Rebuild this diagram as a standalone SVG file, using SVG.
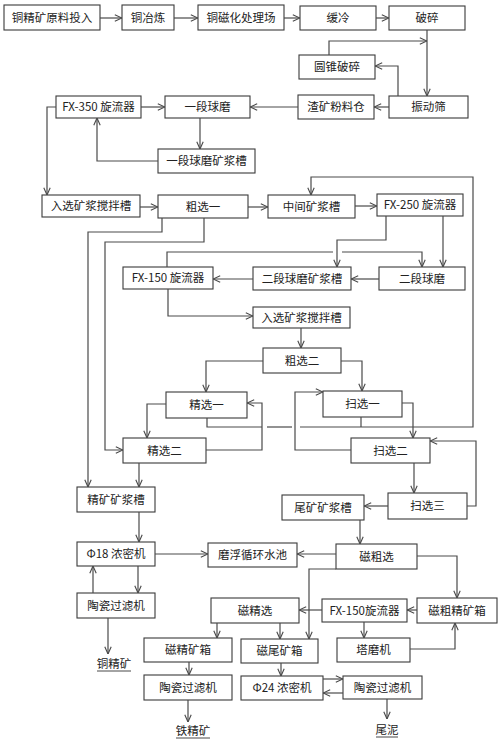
<svg xmlns="http://www.w3.org/2000/svg" width="500" height="743" viewBox="0 0 500 743">
<style>
.b rect{fill:#fff;stroke:#3a3a3a;stroke-width:1.1}
.b text,.t{font-family:"Noto Sans CJK SC","Liberation Sans",sans-serif;font-size:11.5px;fill:#222;text-anchor:middle}
.c polyline,.c line{fill:none;stroke:#4a4a4a;stroke-width:1.2}
.a{marker-end:url(#ar)}
.u{stroke:#333;stroke-width:0.9}
</style>
<defs>
<marker id="ar" viewBox="0 0 10 10" refX="10" refY="5" markerWidth="8" markerHeight="8" markerUnits="userSpaceOnUse" orient="auto">
<path d="M1,1 L10,5 L1,9" fill="none" stroke="#4a4a4a" stroke-width="1.4"/>
</marker>
</defs>
<rect width="500" height="743" fill="#fff"/>
<g class="b">
<g id="n1"><rect x="4" y="5" width="96" height="25"/><text x="52" y="21.5">铜精矿原料投入</text></g>
<g id="n2"><rect x="122" y="5" width="52" height="25"/><text x="148" y="21.5">铜冶炼</text></g>
<g id="n3"><rect x="198" y="5" width="86" height="25"/><text x="241" y="21.5">铜磁化处理场</text></g>
<g id="n4"><rect x="300" y="6" width="76" height="24"/><text x="338" y="22">缓冷</text></g>
<g id="n5"><rect x="389" y="6" width="76" height="24"/><text x="427" y="22">破碎</text></g>
<g id="n6"><rect x="299" y="55" width="76" height="24"/><text x="337" y="71">圆锥破碎</text></g>
<g id="n7"><rect x="389" y="96" width="79" height="22"/><text x="428.5" y="111">振动筛</text></g>
<g id="n8"><rect x="298" y="95" width="76" height="24"/><text x="336" y="111">渣矿粉料仓</text></g>
<g id="n9"><rect x="165" y="96" width="85" height="22"/><text x="207.5" y="111">一段球磨</text></g>
<g id="n10"><rect x="56" y="96" width="85" height="22"/><text x="98.5" y="111">FX-350 旋流器</text></g>
<g id="n11"><rect x="158" y="149" width="97" height="24"/><text x="206.5" y="165">一段球磨矿浆槽</text></g>
<g id="n12"><rect x="42" y="195" width="98" height="22"/><text x="91" y="210">入选矿浆搅拌槽</text></g>
<g id="n13"><rect x="158" y="195" width="90" height="23"/><text x="203" y="210.5">粗选一</text></g>
<g id="n14"><rect x="268" y="195" width="87" height="23"/><text x="311.5" y="210.5">中间矿浆槽</text></g>
<g id="n15"><rect x="377" y="194" width="86" height="22"/><text x="420" y="209">FX-250 旋流器</text></g>
<g id="n16"><rect x="123" y="267" width="90" height="22"/><text x="168" y="282">FX-150 旋流器</text></g>
<g id="n17"><rect x="253" y="267" width="98" height="23"/><text x="302" y="282.5">二段球磨矿浆槽</text></g>
<g id="n18"><rect x="379" y="267" width="86" height="23"/><text x="422" y="282.5">二段球磨</text></g>
<g id="n19"><rect x="253" y="307" width="97" height="21"/><text x="301.5" y="321.5">入选矿浆搅拌槽</text></g>
<g id="n20"><rect x="263" y="348" width="78" height="25"/><text x="302" y="364.5">粗选二</text></g>
<g id="n21"><rect x="166" y="392" width="81" height="26"/><text x="206.5" y="409">精选一</text></g>
<g id="n22"><rect x="323" y="391" width="79" height="26"/><text x="362.5" y="408">扫选一</text></g>
<g id="n23"><rect x="123" y="438" width="83" height="25"/><text x="164.5" y="454.5">精选二</text></g>
<g id="n24"><rect x="351" y="438" width="79" height="25"/><text x="390.5" y="454.5">扫选二</text></g>
<g id="n25"><rect x="77" y="487" width="78" height="25"/><text x="116" y="503.5">精矿矿浆槽</text></g>
<g id="n26"><rect x="388" y="493" width="79" height="26"/><text x="427.5" y="510">扫选三</text></g>
<g id="n27"><rect x="282" y="495" width="82" height="25"/><text x="323" y="511.5">尾矿矿浆槽</text></g>
<g id="n28"><rect x="77" y="542" width="78" height="24"/><text x="116" y="558">Φ18 浓密机</text></g>
<g id="n29"><rect x="208" y="543" width="89" height="24"/><text x="252.5" y="559">磨浮循环水池</text></g>
<g id="n30"><rect x="336" y="544" width="81" height="25"/><text x="376.5" y="560.5">磁粗选</text></g>
<g id="n31"><rect x="77" y="593" width="78" height="25"/><text x="116" y="609.5">陶瓷过滤机</text></g>
<g id="n32"><rect x="211" y="598" width="88" height="25"/><text x="255" y="614.5">磁精选</text></g>
<g id="n33"><rect x="322" y="599" width="85" height="23"/><text x="364.5" y="614.5">FX-150旋流器</text></g>
<g id="n34"><rect x="417" y="598" width="80" height="25"/><text x="457" y="614.5">磁粗精矿箱</text></g>
<g id="n35"><rect x="144" y="638" width="88" height="24"/><text x="188" y="654">磁精矿箱</text></g>
<g id="n36"><rect x="241" y="639" width="77" height="24"/><text x="279.5" y="655">磁尾矿箱</text></g>
<g id="n37"><rect x="337" y="638" width="73" height="24"/><text x="373.5" y="654">塔磨机</text></g>
<g id="n38"><rect x="144" y="675" width="88" height="25"/><text x="188" y="691.5">陶瓷过滤机</text></g>
<g id="n39"><rect x="241" y="676" width="82" height="24"/><text x="282" y="692">Φ24 浓密机</text></g>
<g id="n40"><rect x="343" y="676" width="79" height="23"/><text x="382.5" y="691.5">陶瓷过滤机</text></g>
</g>
<g id="outputs">
<g id="o1"><text class="t" x="114" y="668">铜精矿</text><line class="u" x1="97" y1="671" x2="131" y2="671"/></g>
<g id="o2"><text class="t" x="193" y="735">铁精矿</text><line class="u" x1="176" y1="738" x2="210" y2="738"/></g>
<g id="o3"><text class="t" x="387" y="734">尾泥</text><line class="u" x1="376" y1="737" x2="398" y2="737"/></g>
</g>
<g id="connectors" class="c">
<polyline class="a" points="100,18 122,18"/>
<polyline class="a" points="174,18 198,18"/>
<polyline class="a" points="284,18 300,18"/>
<polyline class="a" points="376,18 389,18"/>
<polyline class="a" points="427,30 427,96"/>
<polyline class="a" points="329,55 329,41 427,41"/>
<polyline class="a" points="398,96 398,66 375,66"/>
<polyline class="a" points="389,107 374,107"/>
<polyline class="a" points="298,107 250,107"/>
<polyline class="a" points="141,107 165,107"/>
<polyline class="a" points="200,118 200,149"/>
<polyline class="a" points="158,161 97,161 97,118"/>
<polyline class="a" points="56,107 47,107 47,195"/>
<polyline class="a" points="140,207 158,207"/>
<polyline class="a" points="248,207 268,207"/>
<polyline class="a" points="355,206 377,206"/>
<polyline points="207,418 207,427 262,427"/>
<polyline points="267,427 292,427"/>
<polyline class="a" points="300,427 473,427 473,177 311,177 311,195"/>
<polyline points="361,417 361,427"/>
<polyline class="a" points="206,450 262,450 262,403 247,403"/>
<polyline class="a" points="351,450 295,450 295,392 323,392"/>
<polyline class="a" points="386,216 386,240 337,240 337,267"/>
<polyline class="a" points="443,216 443,267"/>
<polyline points="167,267 167,252 333,252"/>
<polyline class="a" points="342,252 422,252 422,267"/>
<polyline class="a" points="379,279 351,279"/>
<polyline class="a" points="253,279 213,279"/>
<polyline class="a" points="168,289 168,316 253,316"/>
<polyline class="a" points="301,328 301,348"/>
<polyline class="a" points="341,361 362,361 362,391"/>
<polyline class="a" points="263,361 206,361 206,392"/>
<polyline class="a" points="166,404 147,404 147,438"/>
<polyline class="a" points="162,218 162,232 88,232 88,487"/>
<polyline class="a" points="204,218 204,242 105,242 105,450 123,450"/>
<polyline class="a" points="139,463 139,487"/>
<polyline class="a" points="402,403 413,403 413,438"/>
<polyline class="a" points="414,463 414,493"/>
<polyline class="a" points="467,506 476,506 476,441 430,441"/>
<polyline class="a" points="388,506 364,506"/>
<polyline class="a" points="360,520 360,544"/>
<polyline class="a" points="139,512 139,542"/>
<polyline class="a" points="155,554 208,554"/>
<polyline class="a" points="336,554 297,554"/>
<polyline class="a" points="138,566 138,593"/>
<polyline class="a" points="93,593 93,566"/>
<polyline class="a" points="108,618 108,654"/>
<polyline class="a" points="417,556 457,556 457,598"/>
<polyline class="a" points="336,569 309,569 309,639"/>
<polyline class="a" points="417,610 407,610"/>
<polyline class="a" points="322,610 299,610"/>
<polyline class="a" points="364,622 364,638"/>
<polyline class="a" points="410,649 455,649 455,623"/>
<polyline class="a" points="217,623 217,638"/>
<polyline class="a" points="280,623 280,639"/>
<polyline class="a" points="189,662 189,675"/>
<polyline class="a" points="188,700 188,722"/>
<polyline class="a" points="281,663 281,676"/>
<polyline class="a" points="323,679 343,679"/>
<polyline class="a" points="343,693 323,693"/>
<polyline class="a" points="387,699 387,719"/>
</g>
</svg>
